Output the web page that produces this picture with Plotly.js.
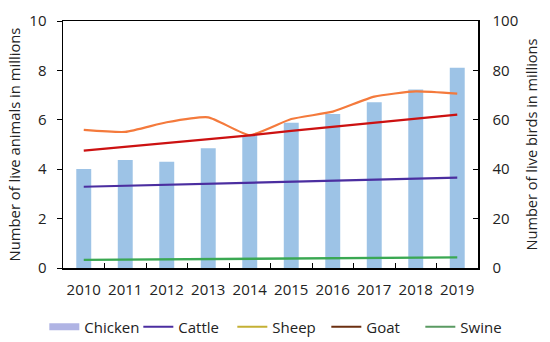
<!DOCTYPE html>
<html>
<head>
<meta charset="utf-8">
<script src="https://cdn.plot.ly/plotly-3.0.1.min.js"></script>
<style>html,body{margin:0;padding:0;background:#fff;}#chart{width:550px;height:342px;}</style>
</head>
<body>
<div id="chart"></div>
<script>
var years = ['2010','2011','2012','2013','2014','2015','2016','2017','2018','2019'];
var chicken = [40.1, 43.7, 43.0, 48.5, 53.8, 58.8, 62.3, 67.1, 72.3, 81.1];
var cattle = [3.29, 3.33, 3.37, 3.41, 3.45, 3.50, 3.54, 3.58, 3.62, 3.66];
var sheep = [5.59, 5.51, 5.90, 6.10, 5.38, 6.03, 6.33, 6.94, 7.15, 7.06];
var goat = [4.75, 4.90, 5.05, 5.20, 5.37, 5.55, 5.72, 5.88, 6.05, 6.21];
var swine = [0.33, 0.34, 0.35, 0.36, 0.37, 0.38, 0.39, 0.40, 0.41, 0.43];
var seriesNames = ['Chicken', 'Cattle', 'Sheep', 'Goat', 'Swine'];

var FONT = '"Open Sans", "Noto Sans", sans-serif';
var lineColors = {Cattle: '#4b2ea0', Sheep: '#f47a3c', Goat: '#cc1111', Swine: '#3aa852'};
var legendColors = {Chicken: '#b0b4e4', Cattle: '#4b2ea0', Sheep: '#c4b034', Goat: '#6b2f10', Swine: '#5a9a62'};

var data = [
  {type: 'bar', x: years, y: chicken, yaxis: 'y', marker: {color: '#9dc3e6'}, width: 0.36, showlegend: false, name: 'Chicken'},
  {type: 'scatter', mode: 'lines', x: years, y: cattle, yaxis: 'y2', line: {color: lineColors.Cattle, width: 2.2}, showlegend: false, name: 'Cattle'},
  {type: 'scatter', mode: 'lines', x: years, y: sheep, yaxis: 'y2', line: {color: lineColors.Sheep, width: 2.2, shape: 'spline', smoothing: 0.5}, showlegend: false, name: 'Sheep'},
  {type: 'scatter', mode: 'lines', x: years, y: goat, yaxis: 'y2', line: {color: lineColors.Goat, width: 2.4}, showlegend: false, name: 'Goat'},
  {type: 'scatter', mode: 'lines', x: years, y: swine, yaxis: 'y2', line: {color: lineColors.Swine, width: 2.4}, showlegend: false, name: 'Swine'}
];
// legend entries
seriesNames.forEach(function(n){
  data.push({type: 'scatter', mode: 'lines', x: [null], y: [null], yaxis: 'y2', name: n,
    line: {color: legendColors[n], width: n === 'Chicken' ? 7 : 2}, showlegend: true});
});

var layout = {
  width: 550, height: 342,
  margin: {l: 63, r: 72, t: 21, b: 74, autoexpand: false},
  paper_bgcolor: '#fff', plot_bgcolor: '#fff',
  font: {family: FONT, size: 14, color: '#222'},
  xaxis: {
    type: 'category', showline: true, linecolor: '#000', linewidth: 1.5, mirror: true,
    ticks: 'inside', tickson: 'boundaries', ticklen: 5, tickcolor: '#000', tickangle: 0,
    tickfont: {size: 15}, ticklabelstandoff: 7, showgrid: false, zeroline: false
  },
  yaxis: {
    side: 'right', range: [0, 100], dtick: 20, showline: true, linecolor: '#000', linewidth: 1.5,
    ticks: 'inside', ticklen: 5, tickcolor: '#000', tickfont: {size: 15}, ticklabelstandoff: 10,
    showgrid: false, zeroline: false,
    title: {text: 'Number of live birds in millions', font: {size: 14.6}, standoff: 9}
  },
  yaxis2: {
    overlaying: 'y', side: 'left', range: [0, 10], dtick: 2, showline: true, linecolor: '#000', linewidth: 1.5,
    ticks: 'outside', ticklen: 5, tickcolor: '#000', tickfont: {size: 15}, ticklabelstandoff: 7,
    showgrid: false, zeroline: false,
    title: {text: 'Number of live animals in millions', font: {size: 14.8}, standoff: 5}
  },
  legend: {
    orientation: 'h', x: -0.045, xanchor: 'left', y: -0.239, yanchor: 'middle',
    entrywidth: 49, entrywidthmode: 'pixels',
    font: {size: 15}, traceorder: 'normal', bgcolor: 'rgba(0,0,0,0)'
  }
};

Plotly.newPlot('chart', data, layout, {displayModeBar: false, staticPlot: true});
</script>
</body>
</html>
